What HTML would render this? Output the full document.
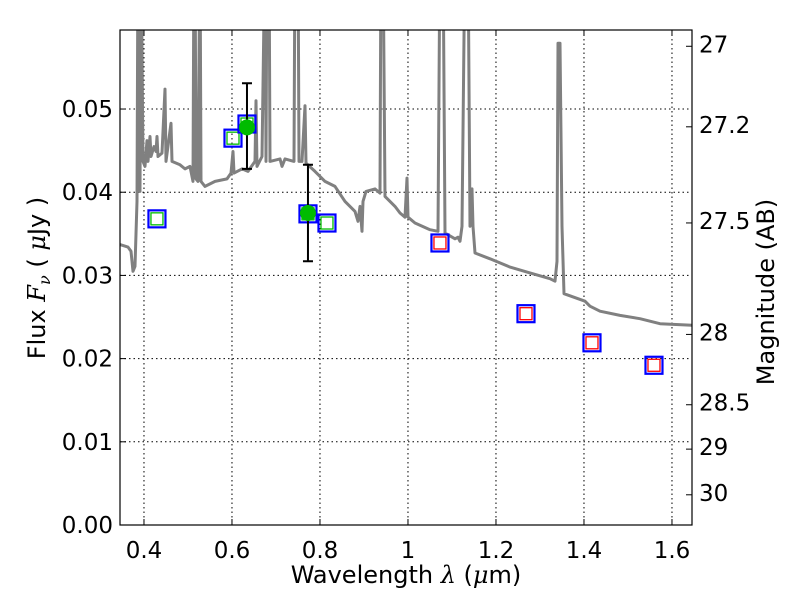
<!DOCTYPE html>
<html><head><meta charset="utf-8"><style>
body{margin:0;background:#fff}
svg{display:block;font-family:"DejaVu Sans","Liberation Sans",sans-serif}
</style></head><body>
<svg id="chart" width="800" height="600" xmlns="http://www.w3.org/2000/svg">
<defs><clipPath id="clip"><rect x="120" y="30" width="572" height="495"/></clipPath></defs>
<rect x="0" y="0" width="800" height="600" fill="#fff"/>
<g id="grid"></g>
<g id="marks" clip-path="url(#clip)"></g>
<rect x="120" y="30" width="572" height="495" fill="none" stroke="#000" stroke-width="1.2"/>
<g id="axes"></g>
<text x="406" y="583" font-size="24" text-anchor="middle">Wavelength  <tspan font-style="italic" font-family="DejaVu Serif, serif">λ</tspan> (<tspan font-style="italic" font-family="DejaVu Serif, serif">μ</tspan>m)</text>
<text transform="translate(45,278) rotate(-90)" font-size="24" text-anchor="middle">Flux  <tspan font-style="italic" font-family="DejaVu Serif, serif">F</tspan><tspan font-style="italic" font-size="16" dy="5" font-family="DejaVu Serif, serif">ν</tspan><tspan dy="-5">  (  </tspan><tspan font-style="italic" font-family="DejaVu Serif, serif">μ</tspan>Jy )</text>
<text transform="translate(774,292) rotate(-90)" font-size="24" text-anchor="middle">Magnitude (AB)</text>
</svg>
<script>
const specWave=[0.3455,0.3636,0.3705,0.375,0.3795,0.3841,0.3864,0.3886,0.3909,0.3932,0.3977,0.4023,0.4068,0.4091,0.4136,0.4159,0.4227,0.4273,0.4295,0.4318,0.4409,0.4477,0.45,0.4614,0.4636,0.4818,0.4932,0.5045,0.5114,0.5136,0.5159,0.5182,0.5227,0.5273,0.5295,0.5386,0.5614,0.5886,0.5977,0.6023,0.6045,0.6227,0.6364,0.6523,0.6545,0.6568,0.6682,0.675,0.6773,0.6795,0.6841,0.6864,0.7091,0.7136,0.7205,0.7409,0.7432,0.75,0.7523,0.7591,0.7659,0.7682,0.7886,0.8114,0.8341,0.8568,0.8795,0.8864,0.8909,0.8955,0.8977,0.9045,0.925,0.9364,0.9386,0.9432,0.9477,0.9705,0.9818,0.9932,0.9977,1.0,1.0159,1.05,1.0682,1.0727,1.0795,1.0841,1.1068,1.1136,1.1182,1.1227,1.1295,1.1364,1.1409,1.1455,1.1477,1.1523,1.1864,1.2318,1.2773,1.3227,1.3341,1.3386,1.3409,1.3455,1.35,1.3545,1.4023,1.4136,1.4364,1.4818,1.5273,1.5727,1.6455];
const specFlux=[0.0337,0.0334,0.0329,0.0305,0.0311,0.0389,0.07,0.0462,0.0401,0.07,0.0437,0.0431,0.0462,0.0437,0.0467,0.0443,0.0455,0.0449,0.0467,0.0443,0.0447,0.0524,0.0437,0.0483,0.0437,0.0433,0.0428,0.0431,0.0413,0.07,0.07,0.0416,0.0413,0.07,0.0413,0.0407,0.0413,0.0416,0.0423,0.0449,0.0423,0.0428,0.0425,0.0437,0.0510,0.0431,0.0443,0.07,0.0437,0.07,0.07,0.0437,0.0440,0.0431,0.0440,0.0437,0.07,0.07,0.0437,0.0437,0.0504,0.0435,0.0425,0.0413,0.0407,0.0389,0.0377,0.0365,0.0383,0.0353,0.0389,0.0401,0.0404,0.0399,0.07,0.07,0.0395,0.0383,0.0375,0.0370,0.0417,0.0370,0.0363,0.0355,0.0353,0.07,0.07,0.0351,0.0344,0.0346,0.0341,0.0359,0.07,0.07,0.0359,0.0404,0.0359,0.0327,0.0320,0.0310,0.0303,0.0296,0.0293,0.0317,0.0579,0.0579,0.0359,0.0278,0.0269,0.0263,0.0257,0.0252,0.0248,0.0242,0.0240];
const photWave=[0.4295,0.6023,0.6341,0.7727,0.8159,1.0727,1.2682,1.4182,1.5591];
const photFlux=[0.0368,0.0465,0.0482,0.0374,0.0363,0.0339,0.0254,0.0219,0.0192];
const photKind=["g","g","g","g","g","r","r","r","r"];
const detWave=[0.6341,0.7727];
const detFlux=[0.0478,0.0375];
const detLo=[0.0428,0.0317];
const detHi=[0.0531,0.0433];
const xTicks=[0.4,0.6,0.8,1.0,1.2,1.4,1.6];
const xTickLabels=["0.4","0.6","0.8","1","1.2","1.4","1.6"];
const yTicks=[0,0.01,0.02,0.03,0.04,0.05];
const yTickLabels=["0.00","0.01","0.02","0.03","0.04","0.05"];
const magTicks=[27,27.2,27.5,28,28.5,29,30];
const magTickLabels=["27","27.2","27.5","28","28.5","29","30"];

const X0=0.3455,X1=1.6455,Y0=0,Y1=0.0595;
const L=120,R=692,T=30,B=525;
const sx=v=>L+(v-X0)/(X1-X0)*(R-L);
const sy=v=>B-(v-Y0)/(Y1-Y0)*(B-T);
const magToFlux=m=>Math.pow(10,(23.9-m)/2.5);
const NS="http://www.w3.org/2000/svg";
function mk(tag,attrs,parent){const e=document.createElementNS(NS,tag);for(const k in attrs)e.setAttribute(k,attrs[k]);parent.appendChild(e);return e;}
const grid=document.getElementById('grid'),marks=document.getElementById('marks'),axes=document.getElementById('axes');

xTicks.forEach((t,i)=>{
  const x=sx(t);
  const g=mk('line',{x1:x,x2:x,y1:T,y2:B,stroke:'#000','stroke-dasharray':'1.5,3','stroke-width':1},grid);
  
  
  mk('line',{x1:x,x2:x,y1:B,y2:B-6,stroke:'#000'},axes);
  mk('line',{x1:x,x2:x,y1:T,y2:T+6,stroke:'#000'},axes);
  const tx=mk('text',{x:x,y:B+33,'font-size':23,'text-anchor':'middle'},axes);
  tx.textContent=xTickLabels[i];
  
  
});
yTicks.forEach((t,i)=>{
  const y=sy(t);
  const g=mk('line',{x1:L,x2:R,y1:y,y2:y,stroke:'#000','stroke-dasharray':'1.5,3','stroke-width':1},grid);
  
  
  mk('line',{x1:L,x2:L+6,y1:y,y2:y,stroke:'#000'},axes);
  const tx=mk('text',{x:L-7,y:y+8,'font-size':23,'text-anchor':'end'},axes);
  tx.textContent=yTickLabels[i];
  
  
});
magTicks.forEach((m,i)=>{
  const y=sy(magToFlux(m));
  mk('line',{x1:R-6,x2:R,y1:y,y2:y,stroke:'#000'},axes);
  const tx=mk('text',{x:R+7,y:y+6,'font-size':23,'text-anchor':'start'},axes);
  tx.textContent=magTickLabels[i];
  
  
});

const pts=specWave.map((w,i)=>sx(w).toFixed(1)+','+sy(specFlux[i]).toFixed(1)).join(' ');
const sp=mk('polyline',{points:pts,fill:'none',stroke:'#808080','stroke-width':3,'stroke-linejoin':'round'},marks);



photWave.forEach((w,i)=>{
  const x=sx(w),y=sy(photFlux[i]);
  const o=mk('rect',{x:x-8.5,y:y-8.5,width:17,height:17,fill:'none',stroke:'#0000ff','stroke-width':2.2},marks);
  
  
  const inner=mk('rect',{x:x-6,y:y-6,width:12,height:12,fill:'none',stroke:photKind[i]==='g'?'#00bb00':'#ff0000','stroke-width':1.3},marks);
  
  
});
detWave.forEach((w,i)=>{
  const x=sx(w);
  const e=mk('path',{d:`M${x},${sy(detHi[i])}V${sy(detLo[i])}M${x-5},${sy(detHi[i])}h10M${x-5},${sy(detLo[i])}h10`,stroke:'#000','stroke-width':2,fill:'none'},marks);
  
  
  const c=mk('circle',{cx:x,cy:sy(detFlux[i]),r:8,fill:'#00bb00'},marks);
  
  
});
</script>
</body></html>
